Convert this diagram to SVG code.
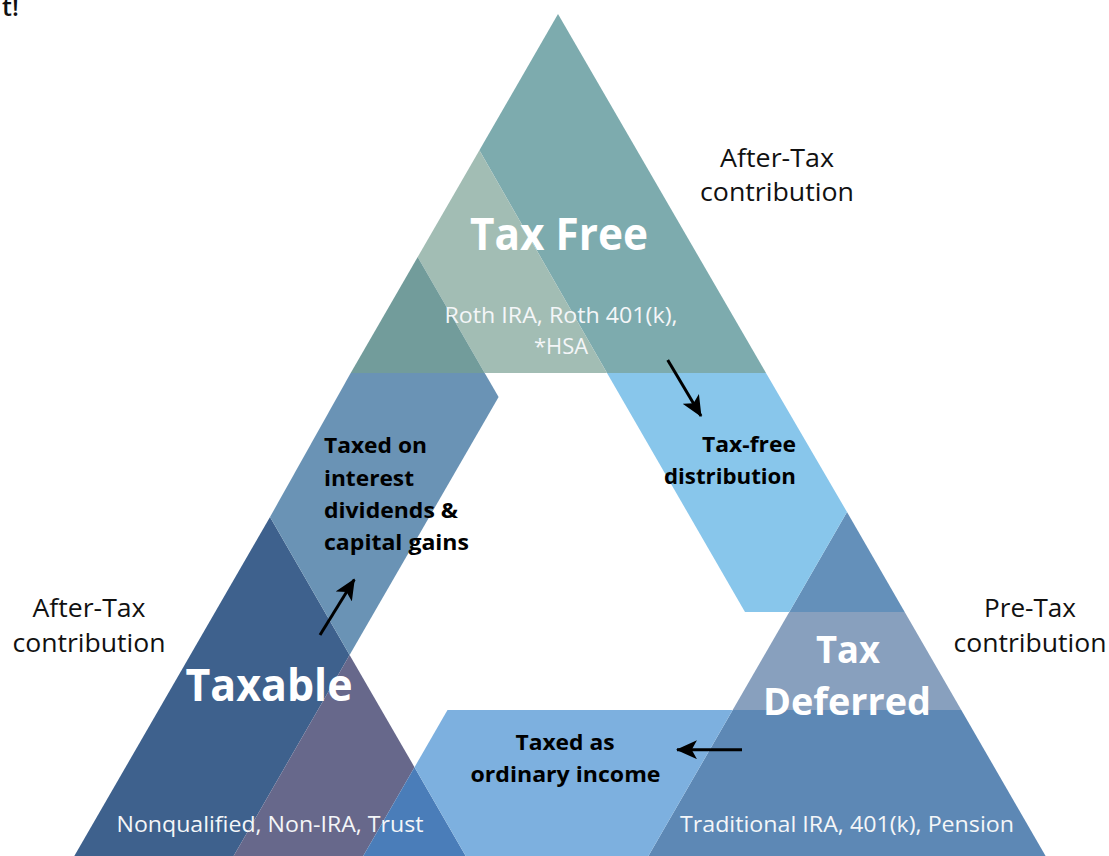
<svg xmlns="http://www.w3.org/2000/svg" width="1109" height="856" viewBox="0 0 1109 856">
  <style>
    text { font-family: "Open Sans", "Noto Sans", "Liberation Sans", sans-serif; }
    .title { font-size: 44px; font-weight: 700; fill: #ffffff; text-anchor: middle; }
    .title-sm { font-size: 37px; font-weight: 700; fill: #ffffff; text-anchor: middle; }
    .accounts { font-size: 21px; font-weight: 400; fill: #f4f6f8; text-anchor: middle; }
    .side { font-size: 25px; font-weight: 400; fill: #111111; text-anchor: middle; }
    .flow { font-size: 21px; font-weight: 700; fill: #000000; }
    .arrow { stroke: #000000; stroke-width: 3; fill: none; marker-end: url(#head); }
  </style>
  <defs>
    <marker id="head" viewBox="0 0 20 18" refX="19" refY="9" markerWidth="21" markerHeight="19" markerUnits="userSpaceOnUse" orient="auto">
      <path d="M0,0 L20,9 L0,18 L5,9 Z" fill="#000000"/>
    </marker>
  </defs>

  <rect width="1109" height="856" fill="#ffffff"/>

  <!-- leftover heading fragment at the top edge -->
  <text x="2" y="16" style="font-size:25px;font-weight:600;fill:#111111">t!</text>

  <!-- Tax Free (top) -->
  <g id="tax-free">
    <polygon points="558,14 766,373 607,373 479.4,150.2" fill="#7dabae"/>
    <polygon points="479.4,150.2 607,373 484.7,373 417.7,257" fill="#a2bdb4"/>
    <polygon points="417.7,257 484.7,373 350.7,373" fill="#729c9b"/>
    <text class="title" x="559" y="250" textLength="178" lengthAdjust="spacingAndGlyphs">Tax Free</text>
    <text class="accounts" x="561" y="323" textLength="233" lengthAdjust="spacingAndGlyphs">Roth IRA, Roth 401(k),</text>
    <text class="accounts" x="561" y="354" textLength="54" lengthAdjust="spacingAndGlyphs">*HSA</text>
  </g>

  <!-- Taxable (bottom left) -->
  <g id="taxable">
    <polygon points="270,517 349.6,655 233.6,856 74.3,856" fill="#3e618d"/>
    <polygon points="349.6,655 414.5,767.2 363.2,856 233.6,856" fill="#67688b"/>
    <polygon points="414.5,767.2 465.7,856 363.2,856" fill="#4a7db9"/>
    <text class="title" x="269" y="701" textLength="167" lengthAdjust="spacingAndGlyphs">Taxable</text>
    <text class="accounts" x="270" y="832" textLength="307" lengthAdjust="spacingAndGlyphs">Nonqualified, Non-IRA, Trust</text>
  </g>

  <!-- Tax Deferred (bottom right) -->
  <g id="tax-deferred">
    <polygon points="847,512 904.7,612 789.3,612" fill="#6490ba"/>
    <polygon points="789.3,612 904.7,612 961.3,710 732.7,710" fill="#88a0be"/>
    <polygon points="732.7,710 961.3,710 1045.6,856 648.4,856" fill="#5d88b5"/>
    <text class="title-sm" x="848" y="663" textLength="64" lengthAdjust="spacingAndGlyphs">Tax</text>
    <text class="title-sm" x="847" y="715" textLength="168" lengthAdjust="spacingAndGlyphs">Deferred</text>
    <text class="accounts" x="847" y="832" textLength="334" lengthAdjust="spacingAndGlyphs">Traditional IRA, 401(k), Pension</text>
  </g>

  <!-- contribution notes beside each corner -->
  <g id="contribution-labels">
    <text class="side" x="777" y="167" textLength="114" lengthAdjust="spacingAndGlyphs">After-Tax</text>
    <text class="side" x="777" y="201" textLength="154" lengthAdjust="spacingAndGlyphs">contribution</text>
    <text class="side" x="89" y="616.5" textLength="113" lengthAdjust="spacingAndGlyphs">After-Tax</text>
    <text class="side" x="89" y="651.7" textLength="153" lengthAdjust="spacingAndGlyphs">contribution</text>
    <text class="side" x="1030" y="616.5" textLength="92" lengthAdjust="spacingAndGlyphs">Pre-Tax</text>
    <text class="side" x="1030" y="651.7" textLength="153" lengthAdjust="spacingAndGlyphs">contribution</text>
  </g>

  <!-- flow bands and arrows between the three buckets -->
  <g id="connectors">
    <!-- Taxable to Tax Free -->
    <polygon points="350.7,373 484.7,373 498.6,397 349.6,655 270,517" fill="#6a93b5"/>
    <!-- Tax Free to Tax Deferred -->
    <polygon points="607,373 766,373 847,512 789.3,612 745,612" fill="#88c6eb"/>
    <!-- Tax Deferred to Taxable -->
    <polygon points="447.5,710 732.7,710 648.4,856 465.7,856 414.5,767.2" fill="#7db0df"/>

    <line class="arrow" x1="320" y1="635" x2="354.3" y2="579.5"/>
    <line class="arrow" x1="667.7" y1="360" x2="701" y2="416"/>
    <line class="arrow" x1="742" y1="749.7" x2="677" y2="749.7"/>

    <text class="flow" x="324" y="453.3" textLength="103" lengthAdjust="spacingAndGlyphs">Taxed on</text>
    <text class="flow" x="324" y="486" textLength="90" lengthAdjust="spacingAndGlyphs">interest</text>
    <text class="flow" x="324" y="517.5" textLength="134" lengthAdjust="spacingAndGlyphs">dividends &amp;</text>
    <text class="flow" x="324" y="550" textLength="145" lengthAdjust="spacingAndGlyphs">capital gains</text>

    <text class="flow" x="796" y="452" text-anchor="end" textLength="94" lengthAdjust="spacingAndGlyphs">Tax-free</text>
    <text class="flow" x="796" y="483.5" text-anchor="end" textLength="132" lengthAdjust="spacingAndGlyphs">distribution</text>

    <text class="flow" x="565" y="750" text-anchor="middle" textLength="99" lengthAdjust="spacingAndGlyphs">Taxed as</text>
    <text class="flow" x="565.5" y="782" text-anchor="middle" textLength="190" lengthAdjust="spacingAndGlyphs">ordinary income</text>
  </g>
</svg>
